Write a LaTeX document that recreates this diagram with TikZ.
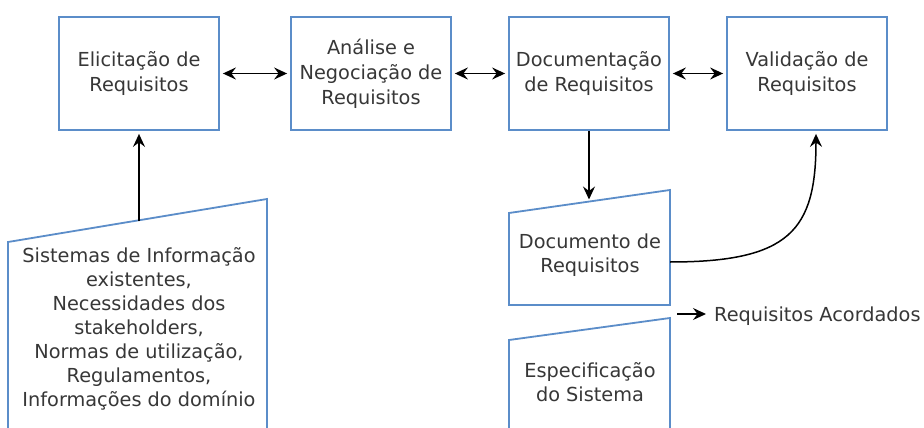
\documentclass[tikz,border=0pt]{standalone}
\usepackage{fontspec}
\setmainfont{DejaVu Sans}
\usetikzlibrary{arrows.meta}
\definecolor{boxblue}{RGB}{91,141,201}
\definecolor{txtgray}{RGB}{55,55,55}
\begin{document}
\begin{tikzpicture}[x=1pt,y=-1pt,
 proc/.style={draw=boxblue,line width=1.8pt,minimum width=160pt,minimum height=113pt,inner sep=0pt,align=center,text=txtgray,font=\fontsize{19.3}{25}\selectfont},
 lbl/.style={align=center,text=txtgray,font=\fontsize{19.3}{24}\selectfont,inner sep=0pt},
 shp/.style={draw=boxblue,line width=1.8pt},
 tipk/.tip={Stealth[length=13pt,width=12pt,inset=4.5pt]},
 conn/.style={line width=1.5pt,-tipk},
 bconn/.style={line width=1.5pt,tipk-tipk}]
\useasboundingbox (0,0) rectangle (924,428);
\fill[white] (0,0) rectangle (924,428);
% top row
\node[proc] (elic) at (139,73.5) {Elicitação de\\Requisitos};
\node[proc] (anal) at (371,73.5) {Análise e\\Negociação de\\Requisitos};
\node[proc] (docu) at (589,73.5) {Documentação\\de Requisitos};
\node[proc] (vali) at (807,73.5) {Validação de\\Requisitos};
\draw[bconn] ([xshift=3pt]elic.east) -- ([xshift=-3pt]anal.west);
\draw[bconn] ([xshift=3pt]anal.east) -- ([xshift=-3pt]docu.west);
\draw[bconn] ([xshift=3pt]docu.east) -- ([xshift=-3pt]vali.west);
% input shape
\draw[shp] (8,430) -- (8,242) -- (267,199) -- (267,430);
\coordinate (intop) at (139,220.5);
\node[lbl] (intxt) at (139,328.5) {Sistemas de Informação\\existentes,\\Necessidades dos\\stakeholders,\\Normas de utilização,\\Regulamentos,\\Informações do domínio};
\draw[conn,shorten >=3pt] (intop) -- (elic.south);
% document shape
\draw[shp] (509,305) -- (509,213) -- (670,190) -- (670,305) -- cycle;
\coordinate (doctop) at (589,201.5);
\coordinate (docright) at (670,262);
\node[lbl] (doctxt) at (590,255) {Documento de\\Requisitos};
\draw[conn,shorten >=2pt] (docu.south) -- (doctop);
\draw[conn,shorten >=3pt] (docright) .. controls (790,262) and (816,230) .. ([xshift=9pt]vali.south);
% spec shape
\draw[shp] (509,430) -- (509,340) -- (670,318) -- (670,430);
\node[lbl] (spectxt) at (590,382.5) {Especificação\\do Sistema};
% legend
\coordinate (lg) at (677,314);
\node[lbl,anchor=west] (legtxt) at (714,316) {Requisitos Acordados};
\draw[conn,shorten >=8pt] (lg) -- (legtxt.west |- lg);
\end{tikzpicture}
\end{document}
